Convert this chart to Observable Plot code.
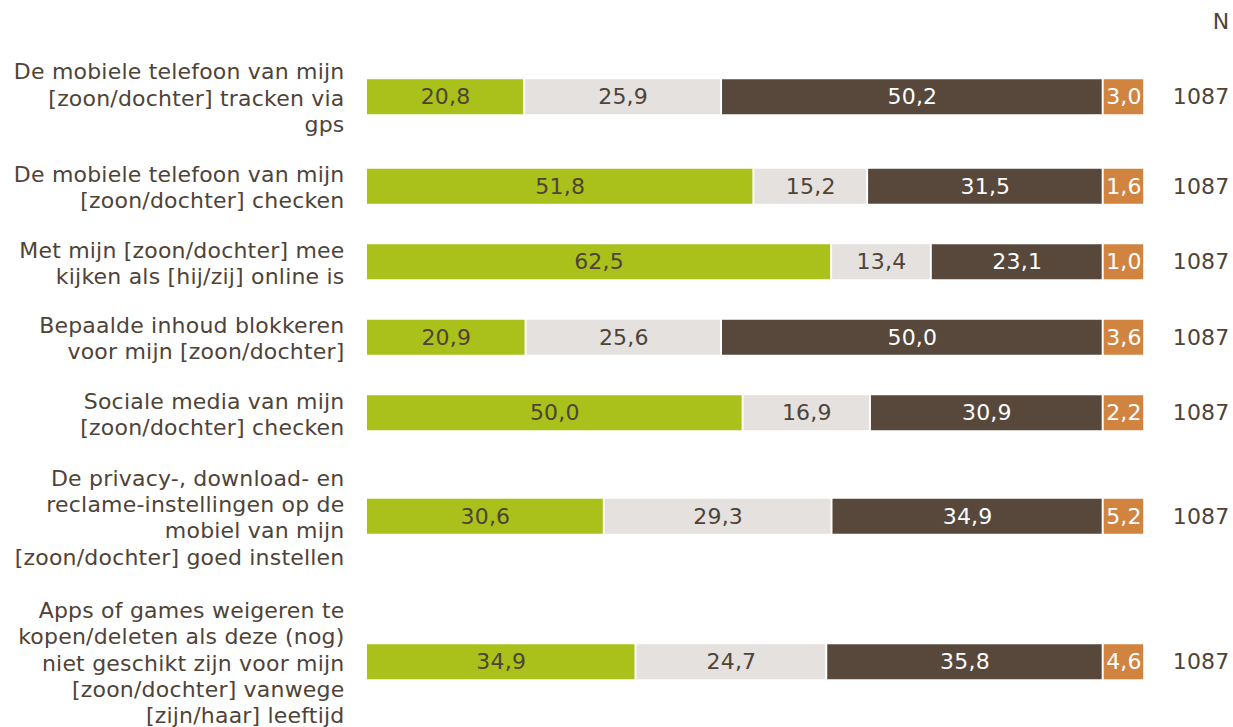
<!DOCTYPE html>
<html>
<head>
<meta charset="utf-8">
<script src="https://cdn.jsdelivr.net/npm/d3@7"></script>
<script src="https://cdn.jsdelivr.net/npm/@observablehq/plot@0.6"></script>
<style>
  body { margin: 0; background: #ffffff; }
  #chart svg { overflow: visible; }
</style>
</head>
<body>
<div id="chart"></div>
<script>
// ---- data ----
const labels = [
  "De mobiele telefoon van mijn\n[zoon/dochter] tracken via\ngps",
  "De mobiele telefoon van mijn\n[zoon/dochter] checken",
  "Met mijn [zoon/dochter] mee\nkijken als [hij/zij] online is",
  "Bepaalde inhoud blokkeren\nvoor mijn [zoon/dochter]",
  "Sociale media van mijn\n[zoon/dochter] checken",
  "De privacy-, download- en\nreclame-instellingen op de\nmobiel van mijn\n[zoon/dochter] goed instellen",
  "Apps of games weigeren te\nkopen/deleten als deze (nog)\nniet geschikt zijn voor mijn\n[zoon/dochter] vanwege\n[zijn/haar] leeftijd"
];
const series1 = [20.8, 51.8, 62.5, 20.9, 50.0, 30.6, 34.9];
const series2 = [25.9, 15.2, 13.4, 25.6, 16.9, 29.3, 24.7];
const series3 = [50.2, 31.5, 23.1, 50.0, 30.9, 34.9, 35.8];
const series4 = [3.0, 1.6, 1.0, 3.6, 2.2, 5.2, 4.6];
const nValues = [1087, 1087, 1087, 1087, 1087, 1087, 1087];
const nHeader = "N";

// ---- styles / layout ----
const seriesKeys = ["s1", "s2", "s3", "s4"];
const seriesColors = ["#a9c11a", "#e4e1de", "#57483b", "#d1843f"];
const darkText = "#4f4338";
const FONT = "DejaVu Sans, Verdana, sans-serif";
const FS = 22;
const LINE = 28, GAP = 19.5, TOP = 45, BAR_H = 35;
const ORANGE_W = 41.5 / 736.7;

// rows layout from line counts
let acc = 0;
const rows = labels.map((label, i) => {
  const lines = label.split("\n").length;
  const h = lines * LINE + GAP;
  const yc = acc + h / 2;
  acc += h;
  return {i, label, yc, n: nValues[i]};
});
const total = acc;

const fmt = v => d3.format(".1f")(v).replace(".", ",");

const segs = [];
rows.forEach(r => {
  const vals = [series1[r.i], series2[r.i], series3[r.i]];
  const t = d3.sum(vals);
  let cum = 0;
  vals.forEach((v, k) => {
    segs.push({series: seriesKeys[k], k, x1: cum / t, x2: (cum + v) / t, yc: r.yc, value: v});
    cum += v;
  });
  segs.push({series: seriesKeys[3], k: 3, x1: 1, x2: 1 + ORANGE_W, yc: r.yc, value: series4[r.i]});
});
segs.forEach(s => { s.y1 = s.yc - BAR_H / 2; s.y2 = s.yc + BAR_H / 2; });

const chart = Plot.plot({
  width: 1233,
  height: 727,
  margin: 0,
  style: {fontFamily: FONT, fontSize: FS + "px", background: "#ffffff", color: darkText, letterSpacing: "0.2px"},
  x: {domain: [0, 1], range: [367, 1103.7], axis: null},
  y: {domain: [0, total], range: [TOP, TOP + total], axis: null},
  color: {domain: seriesKeys, range: seriesColors},
  marks: [
    Plot.rect(segs, {x1: "x1", x2: "x2", y1: "y1", y2: "y2", fill: "series", insetRight: 2}),
    Plot.text(segs.filter(s => s.k < 2), {x: d => (d.x1 + d.x2) / 2, y: "yc", text: d => fmt(d.value), fill: darkText, fontSize: FS, dx: -1}),
    Plot.text(segs.filter(s => s.k >= 2), {x: d => (d.x1 + d.x2) / 2, y: "yc", text: d => fmt(d.value), fill: "#ffffff", fontSize: FS, dx: -1}),
    Plot.text(rows, {x: () => 0, y: "yc", text: "label", textAnchor: "end", lineAnchor: "middle", lineHeight: 1.2, dx: -23, fill: darkText, fontSize: FS}),
    Plot.text(rows, {frameAnchor: "right", y: "yc", text: d => String(d.n), textAnchor: "end", dx: -4, fill: darkText, fontSize: FS}),
    Plot.text([nHeader], {frameAnchor: "top-right", text: d => d, textAnchor: "end", lineAnchor: "middle", dx: -4, dy: 21, fill: darkText, fontSize: FS})
  ]
});
document.getElementById("chart").appendChild(chart);
</script>
</body>
</html>
